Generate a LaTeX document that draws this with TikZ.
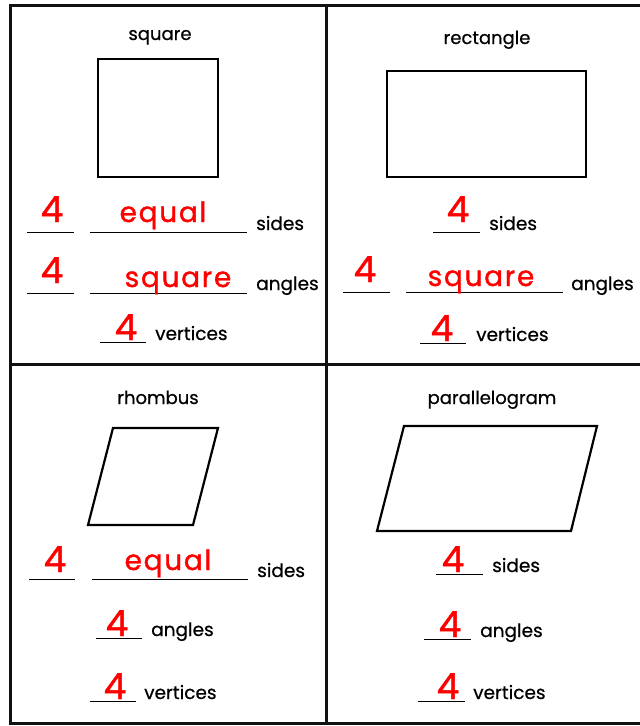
\documentclass[tikz,border=0pt]{standalone}
\usepackage{fontspec}
\setmainfont{Poppins}[FakeBold=0.6]
\newfontfamily\answerfont[LetterSpace=6, FakeBold=1.2]{Poppins}
\usetikzlibrary{positioning}
\definecolor{answerred}{HTML}{FF0000}
\definecolor{gridblack}{HTML}{111111}
\tikzset{
  cellframe/.style={line width=3pt, gridblack, line cap=rect},
  shapeline/.style={line width=2.2pt, black, line join=miter},
  blank/.style={line width=0.9pt, black},
  title/.style={font=\fontsize{18}{21}\selectfont, anchor=base, inner sep=0pt},
  label/.style={font=\fontsize{18.5}{22}\selectfont, anchor=base west, inner sep=0pt},
  answer/.style={font=\answerfont\fontsize{28}{32}\selectfont, answerred,
    anchor=base, inner sep=0pt},
  digit/.style={answer, font=\answerfont\fontsize{36}{40}\selectfont},
}
\begin{document}
\begin{tikzpicture}[x=1pt, y=-1pt]
  \useasboundingbox (0, 0) rectangle (640, 726);

  % Grid
  \draw[cellframe] (640, 5) -- (10, 5) -- (10, 723) -- (640, 723);
  \draw[cellframe] (326, 5) -- (326, 723);
  \draw[cellframe] (10, 364) -- (640, 364);

  % Square
  \node[title] (sqtitle) at (160, 40) {square};
  \draw[shapeline] (98, 59) rectangle (218, 177);
  \draw[blank] (27, 232) -- (74, 232);
  \draw[blank] (90, 232) -- (247, 232);
  \node[digit] (sqa) at (52, 222) {4};
  \node[answer] (sqb) at (163, 222) {equal};
  \node[label] (sqc) at (256, 230) {sides};
  \draw[blank] (27, 293) -- (74, 293);
  \draw[blank] (90, 293) -- (247, 293);
  \node[digit] (sqd) at (52, 283) {4};
  \node[answer] (sqe) at (178, 287) {square};
  \node[label] (sqf) at (256, 290) {angles};
  \draw[blank] (100, 342) -- (146, 342);
  \node[digit] (sqg) at (126, 340) {4};
  \node[label] (sqh) at (155, 340) {vertices};

  % Rectangle
  \node[title] (retitle) at (487, 44) {rectangle};
  \draw[shapeline] (387, 71) rectangle (586, 177);
  \draw[blank] (433, 232) -- (480, 232);
  \node[digit] (rea) at (458, 222) {4};
  \node[label] (reb) at (489, 230) {sides};
  \draw[blank] (343, 292) -- (390, 292);
  \draw[blank] (406, 292) -- (563, 292);
  \node[digit] (rec) at (365, 282) {4};
  \node[answer] (red) at (481, 286) {square};
  \node[label] (ree) at (571, 290) {angles};
  \draw[blank] (420, 343) -- (466, 343);
  \node[digit] (ref) at (442, 341) {4};
  \node[label] (reg) at (476, 341) {vertices};

  % Rhombus
  \node[title] (rhtitle) at (158, 404) {rhombus};
  \draw[shapeline] (113, 428) -- (218, 428) -- (193, 525) -- (88, 525) -- cycle;
  \draw[blank] (29, 579) -- (75, 579);
  \draw[blank] (92, 579) -- (248, 579);
  \node[digit] (rha) at (55, 572) {4};
  \node[answer] (rhb) at (168, 570) {equal};
  \node[label] (rhc) at (257, 577) {sides};
  \draw[blank] (96, 638) -- (142, 638);
  \node[digit] (rhd) at (117, 636) {4};
  \node[label] (rhe) at (151, 636) {angles};
  \draw[blank] (90, 701) -- (136, 701);
  \node[digit] (rhf) at (115, 699) {4};
  \node[label] (rhg) at (144, 699) {vertices};

  % Parallelogram
  \node[title] (patitle) at (492, 404) {parallelogram};
  \draw[shapeline] (404, 426) -- (597, 426) -- (571, 531) -- (377, 531) -- cycle;
  \draw[blank] (436, 574) -- (483, 574);
  \node[digit] (paa) at (453, 572) {4};
  \node[label] (pab) at (492, 572) {sides};
  \draw[blank] (424, 639) -- (471, 639);
  \node[digit] (pac) at (450, 637) {4};
  \node[label] (pad) at (480, 637) {angles};
  \draw[blank] (418, 701) -- (465, 701);
  \node[digit] (pae) at (448, 699) {4};
  \node[label] (paf) at (473, 699) {vertices};
\end{tikzpicture}
\end{document}
